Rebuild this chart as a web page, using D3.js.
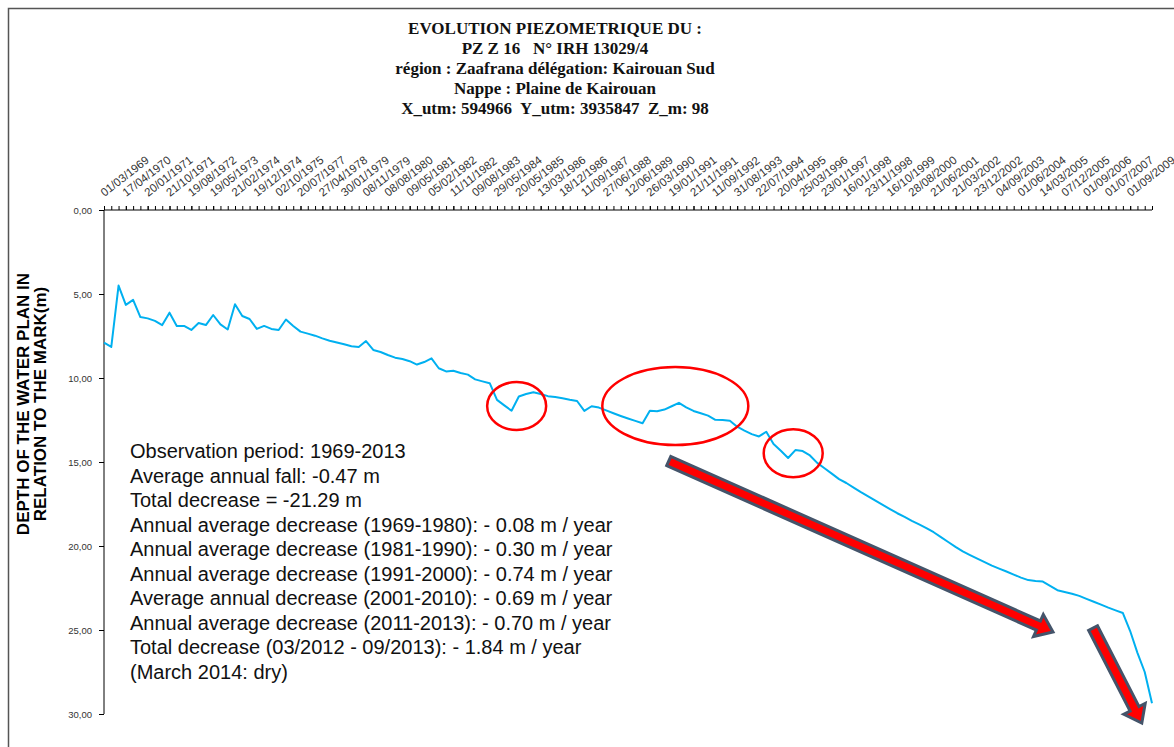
<!DOCTYPE html>
<html>
<head>
<meta charset="utf-8">
<script src="https://cdn.jsdelivr.net/npm/d3@7"></script>
<style>
  body { margin: 0; background: #fff; }
</style>
</head>
<body>
<div id="chart"></div>
<script>
// category labels shown on the top axis (one every 3 observations)
var tickDates = ["01/03/1969","17/04/1970","20/01/1971","21/10/1971","19/08/1972","19/05/1973",
  "21/02/1974","19/12/1974","02/10/1975","20/07/1977","27/04/1978","30/01/1979","08/11/1979",
  "08/08/1980","09/05/1981","05/02/1982","11/11/1982","09/08/1983","29/05/1984","20/05/1985",
  "13/03/1986","18/12/1986","11/09/1987","27/06/1988","12/06/1989","26/03/1990","19/01/1991",
  "21/11/1991","11/09/1992","31/08/1993","22/07/1994","20/04/1995","25/03/1996","23/01/1997",
  "16/01/1998","23/11/1998","16/10/1999","28/08/2000","21/06/2001","21/03/2002","23/12/2002",
  "04/09/2003","01/06/2004","14/03/2005","07/12/2005","01/09/2006","01/07/2007","01/09/2009"];

// depth of the water table (m), one value per observation
var depth = [7.90,8.15,4.50,5.65,5.35,6.37,6.45,6.60,6.85,6.11,
  6.90,6.90,7.14,6.73,6.85,6.25,6.81,7.11,5.61,6.31,
  6.49,7.08,6.90,7.08,7.14,6.52,6.90,7.24,7.36,7.48,
  7.64,7.78,7.89,7.99,8.11,8.15,7.80,8.33,8.45,8.63,
  8.79,8.87,9.00,9.20,9.05,8.83,9.42,9.61,9.57,9.70,
  9.80,10.08,10.20,10.31,11.30,11.63,11.95,11.10,10.95,10.85,
  10.95,11.08,11.13,11.20,11.29,11.37,11.96,11.68,11.76,11.93,
  12.10,12.26,12.41,12.55,12.69,11.95,11.98,11.88,11.68,11.48,
  11.75,11.96,12.10,12.24,12.49,12.50,12.55,12.90,13.13,13.34,
  13.48,13.20,13.93,14.33,14.76,14.29,14.35,14.61,15.05,15.37,
  15.69,16.02,16.25,16.52,16.79,17.04,17.30,17.55,17.80,18.05,
  18.27,18.50,18.71,18.93,19.18,19.47,19.76,20.05,20.32,20.54,
  20.75,20.96,21.17,21.35,21.52,21.70,21.88,22.03,22.08,22.12,
  22.37,22.63,22.74,22.84,22.97,23.15,23.32,23.49,23.67,23.83,
  23.99,25.06,26.36,27.50,29.36];

var yTicks = [0, 5, 10, 15, 20, 25, 30];

var titleLines = ["EVOLUTION PIEZOMETRIQUE DU :",
  "PZ Z 16   N\u00b0 IRH 13029/4",
  "r\u00e9gion : Zaafrana d\u00e9l\u00e9gation: Kairouan Sud",
  "Nappe : Plaine de Kairouan",
  "X_utm: 594966  Y_utm: 3935847  Z_m: 98"];

var yTitle = ["DEPTH OF THE WATER PLAN IN", "RELATION TO THE MARK(m)"];

var notes = ["Observation period: 1969-2013",
  "Average annual fall: -0.47 m",
  "Total decrease = -21.29 m",
  "Annual average decrease (1969-1980): - 0.08 m / year",
  "Annual average decrease (1981-1990): - 0.30 m / year",
  "Annual average decrease (1991-2000): - 0.74 m / year",
  "Average annual decrease (2001-2010): - 0.69 m / year",
  "Annual average decrease (2011-2013): - 0.70 m / year",
  "Total decrease (03/2012 - 09/2013): - 1.84 m / year",
  "(March 2014: dry)"];

// highlighted zones: centre as [observation index, depth]
var zoneCenter = [[56.7, 11.67], [78.5, 11.67], [94.7, 14.48]];
var zoneRadius = [[29.5, 24], [73, 39], [29.5, 24]];

// trend arrows: [start index, start depth, end index, end depth]
var arrowLines = [[77.6, 14.94, 130.4, 25.12], [135.9, 24.88, 142.6, 30.54]];

var margin = {top: 210, right: 22, bottom: 33, left: 104},
    width = 1174 - margin.left - margin.right,
    height = 747 - margin.top - margin.bottom;

var root = d3.select("#chart")
    .append("svg")
    .attr("width", 1174)
    .attr("height", 747);

// page frame
root.append("path")
    .attr("d", "M8.5,747 L8.5,8.5 L1174,8.5")
    .attr("fill", "none")
    .attr("stroke", "#555")
    .attr("stroke-width", 1.5);

// title
root.append("g").selectAll("text")
    .data(titleLines)
    .enter().append("text")
    .attr("x", 555)
    .attr("y", function(d, i) { return 34 + i * 20; })
    .attr("text-anchor", "middle")
    .style("white-space", "pre")
    .style("font-family", "'Liberation Serif', 'DejaVu Serif', serif")
    .style("font-weight", "bold")
    .style("font-size", "17px")
    .style("fill", "#111")
    .text(function(d) { return d; });

// y title
root.append("g")
    .attr("transform", "translate(0,404) rotate(-90)")
    .selectAll("text")
    .data(yTitle)
    .enter().append("text")
    .attr("x", 0)
    .attr("y", function(d, i) { return 29 + i * 17; })
    .attr("text-anchor", "middle")
    .style("font-family", "'Liberation Sans', Arial, sans-serif")
    .style("font-weight", "bold")
    .style("font-size", "17px")
    .style("fill", "#000")
    .text(function(d) { return d; });

var svg = root.append("g")
    .attr("transform", "translate(" + margin.left + "," + margin.top + ")");

var x = d3.scaleLinear()
    .domain([0, depth.length - 1])
    .range([0, width]);

var y = d3.scaleLinear()
    .domain([0, 30])
    .range([0, height]);

// minor ticks on the top axis
svg.append("g")
    .call(d3.axisTop(x).tickValues(d3.range(0, depth.length)).tickSize(4).tickFormat(""))
    .call(function(g) { g.select(".domain").remove(); })
    .selectAll("line").attr("stroke", "#000");

// labelled ticks
var xAxis = svg.append("g")
    .call(d3.axisTop(x)
        .tickValues(tickDates.map(function(d, i) { return i * 3; }))
        .tickSize(4)
        .tickFormat(function(d) { return tickDates[d / 3]; }));
xAxis.select(".domain").attr("stroke", "#000").attr("d", "M0,0H" + width);
xAxis.selectAll("text")
    .attr("x", 0).attr("y", 0).attr("dy", 0)
    .attr("transform", "translate(0,-13) rotate(-38)")
    .style("text-anchor", "start")
    .style("font-family", "'Liberation Sans', Arial, sans-serif")
    .style("font-size", "11.5px")
    .style("fill", "#333");

// y axis
var yAxis = svg.append("g")
    .call(d3.axisLeft(y)
        .tickValues(yTicks)
        .tickSize(5)
        .tickPadding(7)
        .tickFormat(function(d) { return d3.format(".2f")(d).replace(".", ","); }));
yAxis.select(".domain").attr("stroke", "#000").attr("d", "M0,0V" + height);
yAxis.selectAll("text")
    .style("font-family", "'Liberation Sans', Arial, sans-serif")
    .style("font-size", "9.5px")
    .style("fill", "#333");

// the piezometric curve
var line = d3.line()
    .x(function(d, i) { return x(i); })
    .y(function(d) { return y(d); });

svg.append("path")
    .datum(depth)
    .attr("d", line)
    .attr("fill", "none")
    .attr("stroke", "#00b0f0")
    .attr("stroke-width", 2)
    .attr("stroke-linejoin", "round");

// red ellipses
svg.selectAll(".zone")
    .data(zoneCenter)
    .enter().append("ellipse")
    .attr("class", "zone")
    .attr("cx", function(d) { return x(d[0]); })
    .attr("cy", function(d) { return y(d[1]); })
    .attr("rx", function(d, i) { return zoneRadius[i][0]; })
    .attr("ry", function(d, i) { return zoneRadius[i][1]; })
    .attr("fill", "none")
    .attr("stroke", "#ff0000")
    .attr("stroke-width", 2.5);

// block arrows
function arrowPath(a) {
    var x0 = x(a[0]), y0 = y(a[1]), x1 = x(a[2]), y1 = y(a[3]);
    var len = Math.hypot(x1 - x0, y1 - y0);
    var ux = (x1 - x0) / len, uy = (y1 - y0) / len;
    var nx = -uy, ny = ux;
    var w = 5, hw = 12, hl = 16;
    var bx = x1 - ux * hl, by = y1 - uy * hl;
    var pts = [
        [x0 + nx * w, y0 + ny * w],
        [bx + nx * w, by + ny * w],
        [bx + nx * hw, by + ny * hw],
        [x1, y1],
        [bx - nx * hw, by - ny * hw],
        [bx - nx * w, by - ny * w],
        [x0 - nx * w, y0 - ny * w]
    ];
    return "M" + pts.map(function(p) { return p[0].toFixed(1) + "," + p[1].toFixed(1); }).join("L") + "Z";
}

svg.selectAll(".arrow")
    .data(arrowLines)
    .enter().append("path")
    .attr("class", "arrow")
    .attr("d", arrowPath)
    .attr("fill", "#ff0000")
    .attr("stroke", "#44546a")
    .attr("stroke-width", 3)
    .attr("stroke-linejoin", "miter");

// statistics text
root.append("g").selectAll("text")
    .data(notes)
    .enter().append("text")
    .attr("x", 130)
    .attr("y", function(d, i) { return 458 + i * 24.5; })
    .style("font-family", "'Liberation Sans', Arial, sans-serif")
    .style("font-size", "20px")
    .style("fill", "#111")
    .text(function(d) { return d; });
</script>
</body>
</html>
